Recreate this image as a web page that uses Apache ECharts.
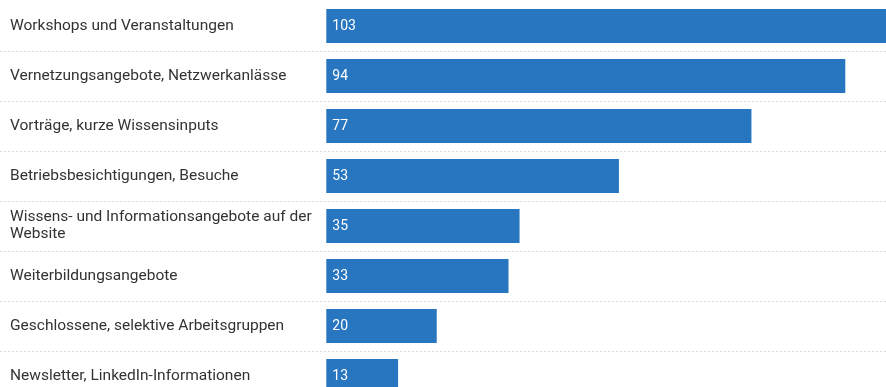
<!DOCTYPE html>
<html>
<head>
<meta charset="utf-8">
<script src="https://cdn.jsdelivr.net/npm/echarts@6/dist/echarts.min.js"></script>
<style>
  html, body { margin: 0; padding: 0; background: #fff; overflow: hidden; }
  #chart { width: 895px; height: 401px; }
</style>
</head>
<body>
<div id="chart"></div>
<script>
// Angebote, sorted from most to least mentioned
const categories = [
  'Workshops und Veranstaltungen',
  'Vernetzungsangebote, Netzwerkanlässe',
  'Vorträge, kurze Wissensinputs',
  'Betriebsbesichtigungen, Besuche',
  'Wissens- und Informationsangebote auf der\nWebsite',
  'Weiterbildungsangebote',
  'Geschlossene, selektive Arbeitsgruppen',
  'Newsletter, LinkedIn-Informationen'
];
const counts = [103, 94, 77, 53, 35, 33, 20, 13];

// The value axis starts below zero so the label column sits left of the bars
const axisMin = -59.1;
const axisMax = 103;

const chart = echarts.init(document.getElementById('chart'), null, { renderer: 'canvas' });

chart.setOption({
  animation: false,
  textStyle: { fontFamily: 'Roboto, "Noto Sans", sans-serif' },
  grid: { left: 0, right: 0, top: 1, bottom: 0, containLabel: false },
  xAxis: {
    type: 'value',
    min: axisMin,
    max: axisMax,
    show: false
  },
  yAxis: {
    type: 'category',
    data: categories,
    inverse: true,
    axisLine: { show: false, onZero: false },
    axisTick: { show: false },
    axisLabel: {
      inside: true,
      margin: 10,
      align: 'left',
      color: '#333',
      fontSize: 15.5,
      lineHeight: 17,
      fontFamily: 'Roboto, "Noto Sans", sans-serif'
    },
    splitLine: {
      show: true,
      // separators only between rows, none above the first
      interval: function (index) { return index !== 0; },
      lineStyle: { color: '#d9d9d9', type: [2, 2], width: 1 }
    }
  },
  series: [{
    type: 'bar',
    data: counts,
    barWidth: 34,
    clip: true,
    itemStyle: { color: '#2776bf' },
    label: {
      show: true,
      position: 'insideLeft',
      distance: 6,
      color: '#ffffff',
      fontSize: 14,
      fontFamily: 'Roboto, "Noto Sans", sans-serif'
    }
  }]
});
</script>
</body>
</html>
